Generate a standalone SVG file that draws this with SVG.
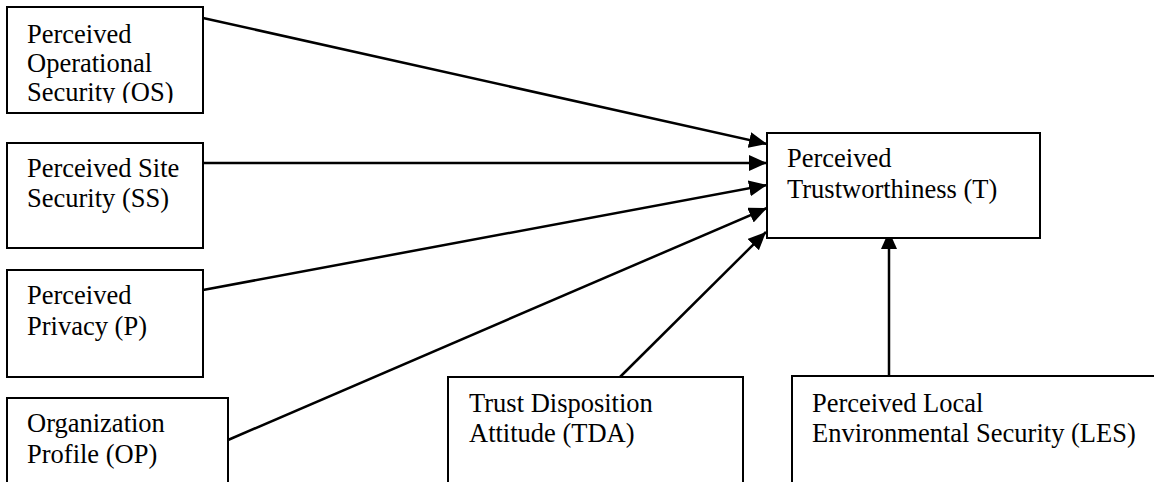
<svg xmlns="http://www.w3.org/2000/svg" width="1154" height="482" viewBox="0 0 1154 482">
  <style>
    .box { fill: #ffffff; stroke: #000000; stroke-width: 2; }
    .lbl { font-family: 'Liberation Serif', 'DejaVu Serif', serif; font-size: 26.5px; fill: #000000; }
    .edge { stroke: #000000; stroke-width: 2.5; fill: none; marker-end: url(#arrow); }
  </style>
  <defs>
    <marker id="arrow" markerUnits="userSpaceOnUse" markerWidth="19" markerHeight="17" refX="18" refY="8" orient="auto">
      <path d="M0,0 L18,8 L0,16 z" fill="#000000"/>
    </marker>
    <clipPath id="clipOS">
      <rect x="7" y="7" width="196" height="96"/>
    </clipPath>
  </defs>
  <rect width="1154" height="482" fill="#ffffff"/>

  <g id="connectors">
    <line class="edge" x1="203" y1="18" x2="767" y2="144"/>
    <line class="edge" x1="203" y1="163" x2="767" y2="163"/>
    <line class="edge" x1="203" y1="290" x2="767" y2="185"/>
    <line class="edge" x1="228" y1="440" x2="767" y2="208"/>
    <line class="edge" x1="620" y1="377" x2="766" y2="232"/>
    <line class="edge" x1="889" y1="376" x2="889" y2="231"/>
  </g>

  <g id="node-os">
    <rect class="box" x="7" y="7" width="196" height="106"/>
    <g clip-path="url(#clipOS)">
      <text class="lbl" x="27" y="43">Perceived</text>
      <text class="lbl" x="27" y="72">Operational</text>
      <text class="lbl" x="27" y="101">Security (OS)</text>
    </g>
  </g>

  <g id="node-ss">
    <rect class="box" x="7" y="143" width="196" height="105"/>
    <text class="lbl" x="27" y="177">Perceived Site</text>
    <text class="lbl" x="27" y="207">Security (SS)</text>
  </g>

  <g id="node-p">
    <rect class="box" x="7" y="270" width="196" height="107"/>
    <text class="lbl" x="27" y="304">Perceived</text>
    <text class="lbl" x="27" y="335">Privacy (P)</text>
  </g>

  <g id="node-op">
    <rect class="box" x="7" y="398" width="221" height="100"/>
    <text class="lbl" x="27" y="432">Organization</text>
    <text class="lbl" x="27" y="463">Profile (OP)</text>
  </g>

  <g id="node-t">
    <rect class="box" x="767" y="133" width="273" height="105"/>
    <text class="lbl" x="787" y="167">Perceived</text>
    <text class="lbl" x="787" y="198">Trustworthiness (T)</text>
  </g>

  <g id="node-tda">
    <rect class="box" x="448" y="377" width="295" height="120"/>
    <text class="lbl" x="469" y="412">Trust Disposition</text>
    <text class="lbl" x="469" y="442">Attitude (TDA)</text>
  </g>

  <g id="node-les">
    <rect class="box" x="792" y="376" width="380" height="120"/>
    <text class="lbl" x="812" y="412">Perceived Local</text>
    <text class="lbl" x="812" y="442">Environmental Security (LES)</text>
  </g>
</svg>
